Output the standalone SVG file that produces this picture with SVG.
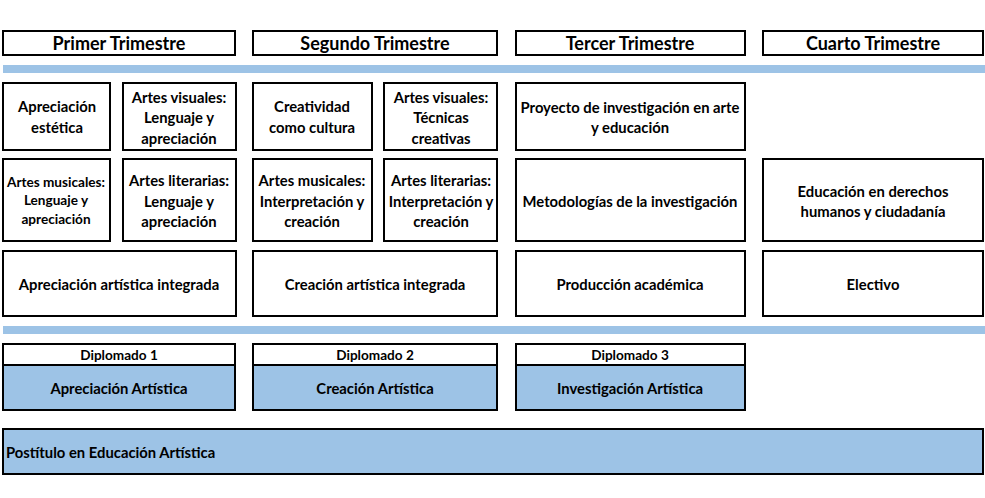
<svg xmlns="http://www.w3.org/2000/svg" width="985" height="498" viewBox="0 0 985 498">
<style>
rect.box{fill:#fff;stroke:#000;stroke-width:2}
rect.blue{fill:#9DC3E6;stroke:#000;stroke-width:2}
rect.bar{fill:#9DC3E6}
text{font-family:Lato,"Liberation Sans",sans-serif;font-weight:bold;fill:#000;text-anchor:middle;dominant-baseline:central}
.h{font-size:18px}
.t{font-size:14.8px}
.s{font-size:13.6px}
</style>
<rect fill="#fff" x="0" y="0" width="985" height="498"/>
<g id="bars">
<rect class="bar" x="3" y="65" width="982" height="8"/>
<rect class="bar" x="3" y="326" width="982" height="8"/>
</g>
<g id="h1"><rect class="box" x="3" y="31" width="232" height="24"/><text class="h" x="119" y="43">Primer Trimestre</text></g>
<g id="h2"><rect class="box" x="253" y="31" width="244" height="24"/><text class="h" x="375" y="43">Segundo Trimestre</text></g>
<g id="h3"><rect class="box" x="516" y="31" width="229" height="24"/><text class="h" x="630" y="43">Tercer Trimestre</text></g>
<g id="h4"><rect class="box" x="763" y="31" width="220" height="24"/><text class="h" x="873" y="43">Cuarto Trimestre</text></g>

<g id="n1"><rect class="box" x="3" y="83" width="107" height="67"/><text class="t" x="57" y="106">Apreciación</text><text class="t" x="57" y="127">estética</text></g>
<g id="n2"><rect class="box" x="123" y="83" width="113" height="67"/><text class="t" x="179" y="97">Artes visuales:</text><text class="t" x="179" y="117">Lenguaje y</text><text class="t" x="179" y="138">apreciación</text></g>
<g id="n3"><rect class="box" x="253" y="83" width="119" height="67"/><text class="t" x="312" y="106">Creatividad</text><text class="t" x="312" y="127">como cultura</text></g>
<g id="n4"><rect class="box" x="384" y="83" width="113" height="67"/><text class="t" x="441" y="97">Artes visuales:</text><text class="t" x="441" y="117">Técnicas</text><text class="t" x="441" y="138">creativas</text></g>
<g id="n5"><rect class="box" x="516" y="83" width="229" height="67"/><text class="t" x="630" y="107">Proyecto de investigación en arte</text><text class="t" x="630" y="127">y educación</text></g>

<g id="n6"><rect class="box" x="3" y="159" width="107" height="82"/><text class="s" x="56" y="182">Artes musicales:</text><text class="s" x="56" y="200">Lenguaje y</text><text class="s" x="56" y="219">apreciación</text></g>
<g id="n7"><rect class="box" x="123" y="159" width="113" height="82"/><text class="t" x="179" y="180">Artes literarias:</text><text class="t" x="179" y="201">Lenguaje y</text><text class="t" x="179" y="221">apreciación</text></g>
<g id="n8"><rect class="box" x="253" y="159" width="119" height="82"/><text class="t" x="312" y="180">Artes musicales:</text><text class="t" x="312" y="201">Interpretación y</text><text class="t" x="312" y="221">creación</text></g>
<g id="n9"><rect class="box" x="384" y="159" width="113" height="82"/><text class="t" x="441" y="180">Artes literarias:</text><text class="t" x="441" y="201">Interpretación y</text><text class="t" x="441" y="221">creación</text></g>
<g id="n10"><rect class="box" x="516" y="159" width="229" height="82"/><text class="t" x="630" y="201">Metodologías de la investigación</text></g>
<g id="n11"><rect class="box" x="763" y="159" width="220" height="82"/><text class="t" x="873" y="191">Educación en derechos</text><text class="t" x="873" y="211">humanos y ciudadanía</text></g>

<g id="n12"><rect class="box" x="3" y="251" width="233" height="65"/><text class="t" x="119" y="284">Apreciación artística integrada</text></g>
<g id="n13"><rect class="box" x="253" y="251" width="244" height="65"/><text class="t" x="375" y="284">Creación artística integrada</text></g>
<g id="n14"><rect class="box" x="516" y="251" width="229" height="65"/><text class="t" x="630" y="284">Producción académica</text></g>
<g id="n15"><rect class="box" x="763" y="251" width="220" height="65"/><text class="t" x="873" y="284">Electivo</text></g>

<g id="d1"><rect class="box" x="3" y="344" width="232" height="21"/><rect class="blue" x="3" y="365" width="232" height="45"/><text class="s" x="119" y="355">Diplomado 1</text><text class="t" x="119" y="388">Apreciación Artística</text></g>
<g id="d2"><rect class="box" x="253" y="344" width="244" height="21"/><rect class="blue" x="253" y="365" width="244" height="45"/><text class="s" x="375" y="355">Diplomado 2</text><text class="t" x="375" y="388">Creación Artística</text></g>
<g id="d3"><rect class="box" x="516" y="344" width="229" height="21"/><rect class="blue" x="516" y="365" width="229" height="45"/><text class="s" x="630" y="355">Diplomado 3</text><text class="t" x="630" y="388">Investigación Artística</text></g>

<g id="p"><rect class="blue" x="3" y="429" width="980" height="45"/><text class="t" x="6" y="452" style="text-anchor:start">Postítulo en Educación Artística</text></g>
<g id="connectors"></g>
</svg>
